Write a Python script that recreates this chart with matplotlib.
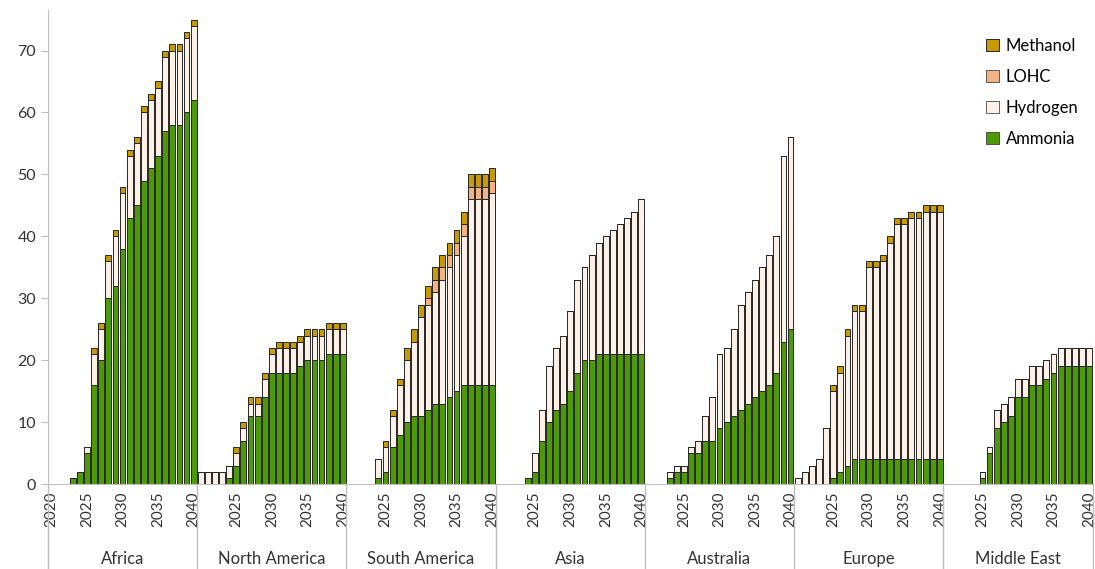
import matplotlib.pyplot as plt
import matplotlib.transforms as mtransforms
from matplotlib.patches import Patch
import numpy as np

plt.rcParams['font.family'] = ['Lato', 'DejaVu Sans']

years = list(range(2020, 2041))
regions = ["Africa", "North America", "South America", "Asia", "Australia", "Europe", "Middle East"]

# values per region, 2020..2040
africa_ammonia = [0, 0, 0, 1, 2, 5, 16, 20, 30, 32, 38, 43, 45, 49, 51, 53, 57, 58, 58, 60, 62]
africa_hydrogen = [0, 0, 0, 0, 0, 1, 5, 5, 6, 8, 9, 10, 10, 11, 11, 11, 12, 12, 12, 12, 12]
africa_lohc = [0] * 21
africa_methanol = [0, 0, 0, 0, 0, 0, 1, 1, 1, 1, 1, 1, 1, 1, 1, 1, 1, 1, 1, 1, 1]

namerica_ammonia = [0, 0, 0, 0, 1, 3, 7, 11, 11, 14, 18, 18, 18, 18, 19, 20, 20, 20, 21, 21, 21]
namerica_hydrogen = [2, 2, 2, 2, 2, 2, 2, 2, 2, 3, 3, 4, 4, 4, 4, 4, 4, 4, 4, 4, 4]
namerica_lohc = [0] * 21
namerica_methanol = [0, 0, 0, 0, 0, 1, 1, 1, 1, 1, 1, 1, 1, 1, 1, 1, 1, 1, 1, 1, 1]

samerica_ammonia = [0, 0, 0, 0, 1, 2, 6, 8, 10, 11, 11, 12, 13, 13, 14, 15, 16, 16, 16, 16, 16]
samerica_hydrogen = [0, 0, 0, 0, 3, 4, 5, 8, 10, 12, 16, 17, 18, 20, 21, 22, 24, 30, 30, 30, 31]
samerica_lohc = [0, 0, 0, 0, 0, 0, 0, 0, 0, 0, 0, 1, 2, 2, 2, 2, 2, 2, 2, 2, 2]
samerica_methanol = [0, 0, 0, 0, 0, 1, 1, 1, 2, 2, 2, 2, 2, 2, 2, 2, 2, 2, 2, 2, 2]

asia_ammonia = [0, 0, 0, 0, 1, 2, 7, 10, 12, 13, 15, 18, 20, 20, 21, 21, 21, 21, 21, 21, 21]
asia_hydrogen = [0, 0, 0, 0, 0, 3, 5, 9, 10, 11, 13, 15, 15, 17, 18, 19, 20, 21, 22, 23, 25]
asia_lohc = [0] * 21
asia_methanol = [0] * 21

australia_ammonia = [0, 0, 0, 1, 2, 2, 5, 5, 7, 7, 9, 10, 11, 12, 13, 14, 15, 16, 18, 23, 25]
australia_hydrogen = [0, 0, 0, 1, 1, 1, 1, 2, 4, 7, 12, 12, 14, 17, 18, 19, 20, 21, 22, 30, 31]
australia_lohc = [0] * 21
australia_methanol = [0] * 21

europe_ammonia = [0, 0, 0, 0, 0, 1, 2, 3, 4, 4, 4, 4, 4, 4, 4, 4, 4, 4, 4, 4, 4]
europe_hydrogen = [1, 2, 3, 4, 9, 14, 16, 21, 24, 24, 31, 31, 32, 35, 38, 38, 39, 39, 40, 40, 40]
europe_lohc = [0] * 21
europe_methanol = [0, 0, 0, 0, 0, 1, 1, 1, 1, 1, 1, 1, 1, 1, 1, 1, 1, 1, 1, 1, 1]

meast_ammonia = [0, 0, 0, 0, 0, 1, 5, 9, 10, 11, 14, 14, 16, 16, 17, 18, 19, 19, 19, 19, 19]
meast_hydrogen = [0, 0, 0, 0, 0, 1, 1, 3, 3, 3, 3, 3, 3, 3, 3, 3, 3, 3, 3, 3, 3]
meast_lohc = [0] * 21
meast_methanol = [0] * 21

ammonia = africa_ammonia + namerica_ammonia + samerica_ammonia + asia_ammonia + australia_ammonia + europe_ammonia + meast_ammonia
hydrogen = africa_hydrogen + namerica_hydrogen + samerica_hydrogen + asia_hydrogen + australia_hydrogen + europe_hydrogen + meast_hydrogen
lohc = africa_lohc + namerica_lohc + samerica_lohc + asia_lohc + australia_lohc + europe_lohc + meast_lohc
methanol = africa_methanol + namerica_methanol + samerica_methanol + asia_methanol + australia_methanol + europe_methanol + meast_methanol

c_amm = "#4e9a06"
c_h2 = "#fdf1e7"
c_lohc = "#f4b183"
c_meoh = "#c99a00"
edge = "#262626"

n = len(years)
x = np.arange(len(regions) * n)
a = np.array(ammonia, dtype=float)
h = np.array(hydrogen, dtype=float)
l = np.array(lohc, dtype=float)
m = np.array(methanol, dtype=float)

fig = plt.figure(figsize=(10.95, 5.69), dpi=100)
ax = fig.add_axes([0.0438, 0.149, 0.954, 0.833])

w = 0.82
kw = dict(width=w, edgecolor=edge, linewidth=0.7)
ax.bar(x, a, color=c_amm, **kw)
ax.bar(x, h, bottom=a, color=c_h2, **kw)
ax.bar(x, l, bottom=a + h, color=c_lohc, **kw)
ax.bar(x, m, bottom=a + h + l, color=c_meoh, **kw)

ax.set_xlim(-0.5, len(x) - 0.5)
ax.set_ylim(0, 76.5)
ax.set_yticks(range(0, 80, 10))
ax.tick_params(axis='y', labelsize=11.5, length=5, color="#bfbfbf", labelcolor="#333333")

ticks = []
labels = []
for g in range(len(regions)):
    for i, yr in enumerate(years):
        if yr % 5 == 0 and (yr != 2020 or g == 0):
            ticks.append(g * n + i)
            labels.append(str(yr))
ax.set_xticks(ticks)
ax.set_xticklabels(labels, rotation=90, fontsize=11, color="#333333")
ax.tick_params(axis='x', length=0, pad=5)

for s in ["top", "right"]:
    ax.spines[s].set_visible(False)
ax.spines["left"].set_color("#bfbfbf")
ax.spines["bottom"].set_color("#bfbfbf")

trans = mtransforms.blended_transform_factory(ax.transData, ax.transAxes)
for g in range(len(regions) + 1):
    ax.plot([g * n - 0.5, g * n - 0.5], [0, -0.18], color="#bfbfbf", lw=1,
            transform=trans, clip_on=False)
for g, name in enumerate(regions):
    ax.text(g * n + (n - 1) / 2, -0.157, name, transform=trans, ha="center", va="center",
            fontsize=12, color="#333333")

handles = [Patch(facecolor=c_meoh, edgecolor=edge, linewidth=0.7, label="Methanol"),
           Patch(facecolor=c_lohc, edgecolor=edge, linewidth=0.5, label="LOHC"),
           Patch(facecolor=c_h2, edgecolor=edge, linewidth=0.5, label="Hydrogen"),
           Patch(facecolor=c_amm, edgecolor=edge, linewidth=0.5, label="Ammonia")]
ax.legend(handles=handles, loc="upper left", bbox_to_anchor=(0.884, 0.974), frameon=False,
          fontsize=12, handlelength=0.75, handleheight=0.75, handletextpad=0.4, labelspacing=0.9)

fig.savefig("out.png", dpi=100)
